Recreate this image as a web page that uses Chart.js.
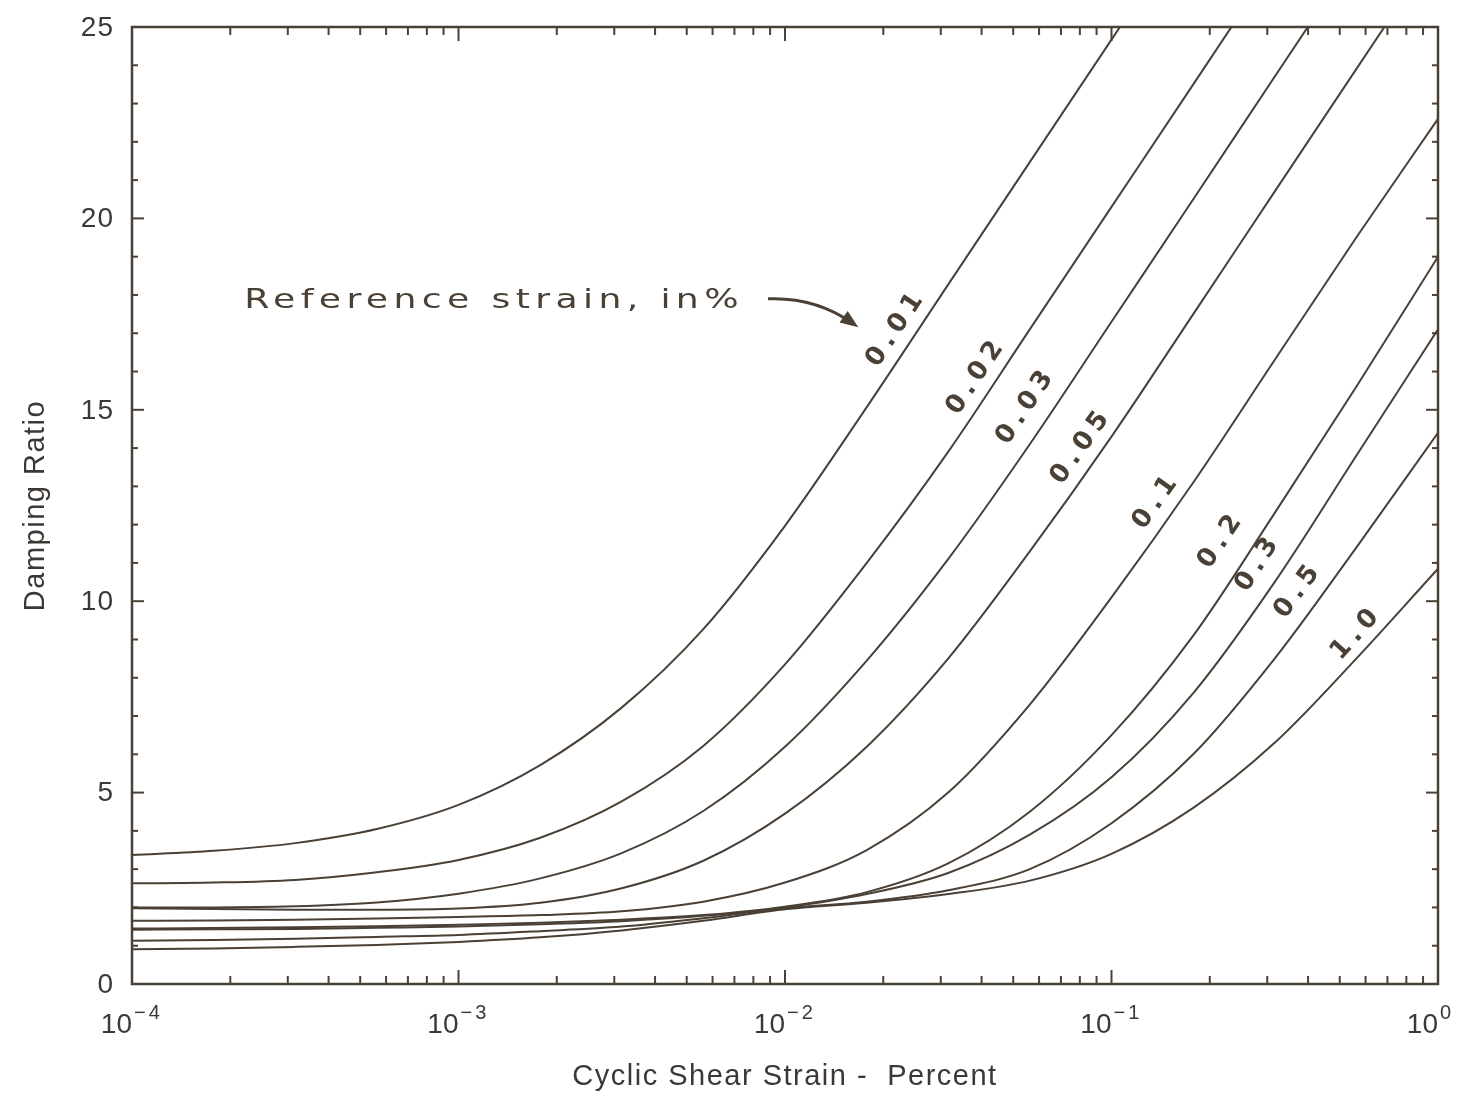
<!DOCTYPE html>
<html>
<head>
<meta charset="utf-8">
<script src="https://cdn.jsdelivr.net/npm/chart.js@4.4.1/dist/chart.umd.min.js"></script>
<style>
  html, body { margin: 0; padding: 0; background: #ffffff; }
  canvas { display: block; }
</style>
</head>
<body>
<canvas id="chart" width="1471" height="1106"></canvas>
<script>
// ---------- DATA ----------
// Cyclic shear strain (percent), quarter-decade reading points
const strain = [1e-4, 1.78e-4, 3.16e-4, 5.62e-4, 1e-3, 1.78e-3, 3.16e-3, 5.62e-3, 1e-2,
                1.78e-2, 3.16e-2, 5.62e-2, 0.1, 0.178, 0.316, 0.562, 1.0];

// Reference strain (percent) of each curve
const referenceStrains = ['0.01', '0.02', '0.03', '0.05', '0.1', '0.2', '0.3', '0.5', '1.0'];

// Damping ratio (%) (last value of the steep curves lies above the frame and is clipped)
const damping_0_01 = [3.37, 3.48, 3.68, 4.05, 4.68, 5.72, 7.22, 9.27, 11.97, 15.07, 18.27, 21.47, 24.67, 27.87];
const damping_0_02 = [2.63, 2.65, 2.72, 2.92, 3.24, 3.82, 4.77, 6.22, 8.35, 11.0, 13.9, 17.1, 20.3, 23.5, 26.7];
const damping_0_03 = [2.00, 2.00, 2.03, 2.13, 2.36, 2.76, 3.42, 4.52, 6.20, 8.45, 11.1, 14.1, 17.3, 20.5, 23.7, 26.9];
const damping_0_05 = [1.98, 1.96, 1.94, 1.94, 1.97, 2.12, 2.50, 3.22, 4.45, 6.20, 8.50, 11.3, 14.3, 17.5, 20.7, 23.9, 27.1];
const damping_0_1  = [1.65, 1.66, 1.68, 1.71, 1.75, 1.80, 1.90, 2.15, 2.65, 3.50, 5.00, 7.30, 10.1, 13.1, 16.3, 19.5, 22.6];
const damping_0_2  = [1.45, 1.46, 1.48, 1.51, 1.55, 1.60, 1.68, 1.80, 2.02, 2.40, 3.15, 4.50, 6.50, 9.10, 12.3, 15.6, 19.0];
const damping_0_3  = [1.42, 1.43, 1.44, 1.47, 1.50, 1.56, 1.64, 1.78, 2.00, 2.35, 2.90, 3.90, 5.40, 7.60, 10.5, 13.8, 17.1];
const damping_0_5  = [1.13, 1.15, 1.18, 1.23, 1.28, 1.38, 1.50, 1.72, 1.98, 2.15, 2.45, 3.00, 4.20, 6.00, 8.50, 11.4, 14.4];
const damping_1_0  = [0.91, 0.93, 0.97, 1.02, 1.10, 1.22, 1.40, 1.65, 1.95, 2.12, 2.35, 2.70, 3.40, 4.60, 6.30, 8.50, 10.85];

const dampingSeries = [damping_0_01, damping_0_02, damping_0_03, damping_0_05, damping_0_1,
                       damping_0_2, damping_0_3, damping_0_5, damping_1_0];

// Axis ticks
const yTickLabels = [0, 5, 10, 15, 20, 25];
const xDecadeExponents = [-4, -3, -2, -1, 0];

// Texts
const xTitle = 'Cyclic Shear Strain -  Percent';
const yTitle = 'Damping Ratio';
const noteText = 'Reference strain, in%';

// ---------- ANNOTATION PLACEMENT (data coordinates, kept apart from the values) ----------
const curveLabelAt = {
  strain:  [0.0217, 0.0382, 0.0543, 0.0801, 0.136, 0.215, 0.279, 0.370, 0.557],
  damping: [17.08, 15.83, 15.05, 14.00, 12.57, 11.55, 10.95, 10.24, 9.12]
};
const noteAt = { strain: 1.285e-3, damping: 17.85 };
const arrowAt = {
  start: { strain: 8.87e-3, damping: 17.9 },
  ctrl:  { strain: 1.24e-2, damping: 17.95 },
  end:   { strain: 1.62e-2, damping: 17.25 }
};

// ---------- STYLE ----------
const INK = '#4a4036';
const TEXT = '#3d3833';
const AXIS_FONT = '"Liberation Sans", Arial, Helvetica, sans-serif';
const HAND_FONT = '"DejaVu Sans", "Noto Sans", sans-serif';

function line(ctx, x1, y1, x2, y2) {
  ctx.beginPath(); ctx.moveTo(x1, y1); ctx.lineTo(x2, y2); ctx.stroke();
}

const framePlugin = {
  id: 'frame',
  afterDraw(chart) {
    const { ctx, chartArea: a, scales: { x, y } } = chart;
    ctx.save();
    ctx.strokeStyle = INK;
    ctx.lineCap = 'butt';

    // Frame
    ctx.lineWidth = 2.5;
    ctx.strokeRect(a.left, a.top, a.right - a.left, a.bottom - a.top);

    // Y ticks (inward, both sides)
    ctx.lineWidth = 2;
    for (let v = 0; v <= 25; v++) {
      const py = y.getPixelForValue(v);
      const len = v % 5 === 0 ? 12 : 6;
      line(ctx, a.left, py, a.left + len, py);
      line(ctx, a.right, py, a.right - len, py);
    }
    // X ticks (inward, bottom and top)
    for (const d of xDecadeExponents) {
      for (let k = 1; k <= 9; k++) {
        const v = k * Math.pow(10, d);
        if (v > 1.0000001) break;
        const px = x.getPixelForValue(v);
        const len = k === 1 ? 14 : 8;
        line(ctx, px, a.bottom, px, a.bottom - len);
        line(ctx, px, a.top, px, a.top + len);
      }
    }

    // Y tick labels
    ctx.fillStyle = TEXT;
    ctx.font = '28px ' + AXIS_FONT;
    ctx.textAlign = 'right';
    ctx.textBaseline = 'middle';
    ctx.letterSpacing = '1px';
    for (const v of yTickLabels) {
      ctx.fillText(String(v), a.left - 18, y.getPixelForValue(v) + 1);
    }

    // X tick labels: 10 with superscript exponent
    ctx.textBaseline = 'alphabetic';
    for (const d of xDecadeExponents) {
      const px = x.getPixelForValue(Math.pow(10, d));
      ctx.font = '28px ' + AXIS_FONT;
      ctx.letterSpacing = '0px';
      ctx.textAlign = 'right';
      ctx.fillText('10', px, a.bottom + 49);
      ctx.font = '20px ' + AXIS_FONT;
      ctx.textAlign = 'left';
      ctx.letterSpacing = '3px';
      const exp = d < 0 ? '\u2212' + Math.abs(d) : String(d);
      ctx.fillText(exp, px + 2, a.bottom + 35);
    }

    // Axis titles
    ctx.font = '29px ' + AXIS_FONT;
    ctx.letterSpacing = '1.5px';
    ctx.textAlign = 'center';
    ctx.fillText(xTitle, (a.left + a.right) / 2, a.bottom + 101);

    ctx.save();
    ctx.translate(44, (a.top + a.bottom) / 2);
    ctx.rotate(-Math.PI / 2);
    ctx.letterSpacing = '1.5px';
    ctx.fillText(yTitle, 0, 0);
    ctx.restore();

    // Handwritten note
    ctx.fillStyle = INK;
    ctx.save();
    ctx.translate(x.getPixelForValue(noteAt.strain), y.getPixelForValue(noteAt.damping));
    ctx.scale(1.34, 1);
    ctx.font = '27px ' + HAND_FONT;
    ctx.letterSpacing = '4px';
    ctx.textAlign = 'center';
    ctx.textBaseline = 'middle';
    ctx.fillText(noteText, 0, 0);
    ctx.restore();

    // Arrow
    const sx = x.getPixelForValue(arrowAt.start.strain), sy = y.getPixelForValue(arrowAt.start.damping);
    const cx = x.getPixelForValue(arrowAt.ctrl.strain),  cy = y.getPixelForValue(arrowAt.ctrl.damping);
    const ex = x.getPixelForValue(arrowAt.end.strain),   ey = y.getPixelForValue(arrowAt.end.damping);
    ctx.lineWidth = 3;
    ctx.beginPath(); ctx.moveTo(sx, sy); ctx.quadraticCurveTo(cx, cy, ex, ey); ctx.stroke();
    const ang = Math.atan2(ey - cy, ex - cx);
    ctx.beginPath();
    ctx.moveTo(ex + 6 * Math.cos(ang), ey + 6 * Math.sin(ang));
    ctx.lineTo(ex - 12 * Math.cos(ang) + 7 * Math.sin(ang), ey - 12 * Math.sin(ang) - 7 * Math.cos(ang));
    ctx.lineTo(ex - 12 * Math.cos(ang) - 7 * Math.sin(ang), ey - 12 * Math.sin(ang) + 7 * Math.cos(ang));
    ctx.closePath(); ctx.fill();

    // Curve labels, aligned with their curves
    ctx.font = '600 26px ' + HAND_FONT;
    ctx.letterSpacing = '6px';
    ctx.textAlign = 'center';
    ctx.textBaseline = 'middle';
    referenceStrains.forEach((lab, i) => {
      const px = x.getPixelForValue(curveLabelAt.strain[i]);
      const py = y.getPixelForValue(curveLabelAt.damping[i]);
      const pts = chart.getDatasetMeta(i).data;
      let angle = -0.95;
      for (let j = 1; j < pts.length; j++) {
        if (pts[j].x >= px + 20) {
          angle = Math.atan2(pts[j].y - pts[j - 1].y, pts[j].x - pts[j - 1].x);
          break;
        }
      }
      ctx.save();
      ctx.translate(px, py);
      ctx.rotate(angle);
      ctx.fillText(lab, 3, 0);
      ctx.restore();
    });

    ctx.restore();
  }
};

new Chart(document.getElementById('chart').getContext('2d'), {
  type: 'line',
  data: {
    datasets: dampingSeries.map((vals, i) => ({
      label: referenceStrains[i],
      data: vals.map((v, j) => ({ x: strain[j], y: v })),
      borderColor: INK,
      borderWidth: 2,
      pointRadius: 0,
      fill: false,
      cubicInterpolationMode: 'monotone'
    }))
  },
  options: {
    responsive: false,
    animation: false,
    devicePixelRatio: 1,
    layout: { padding: { left: 132, right: 33, top: 27, bottom: 122 } },
    plugins: { legend: { display: false }, tooltip: { enabled: false } },
    scales: {
      x: { type: 'logarithmic', min: 1e-4, max: 1, display: false },
      y: { type: 'linear', min: 0, max: 25, display: false }
    }
  },
  plugins: [framePlugin]
});
</script>
</body>
</html>
